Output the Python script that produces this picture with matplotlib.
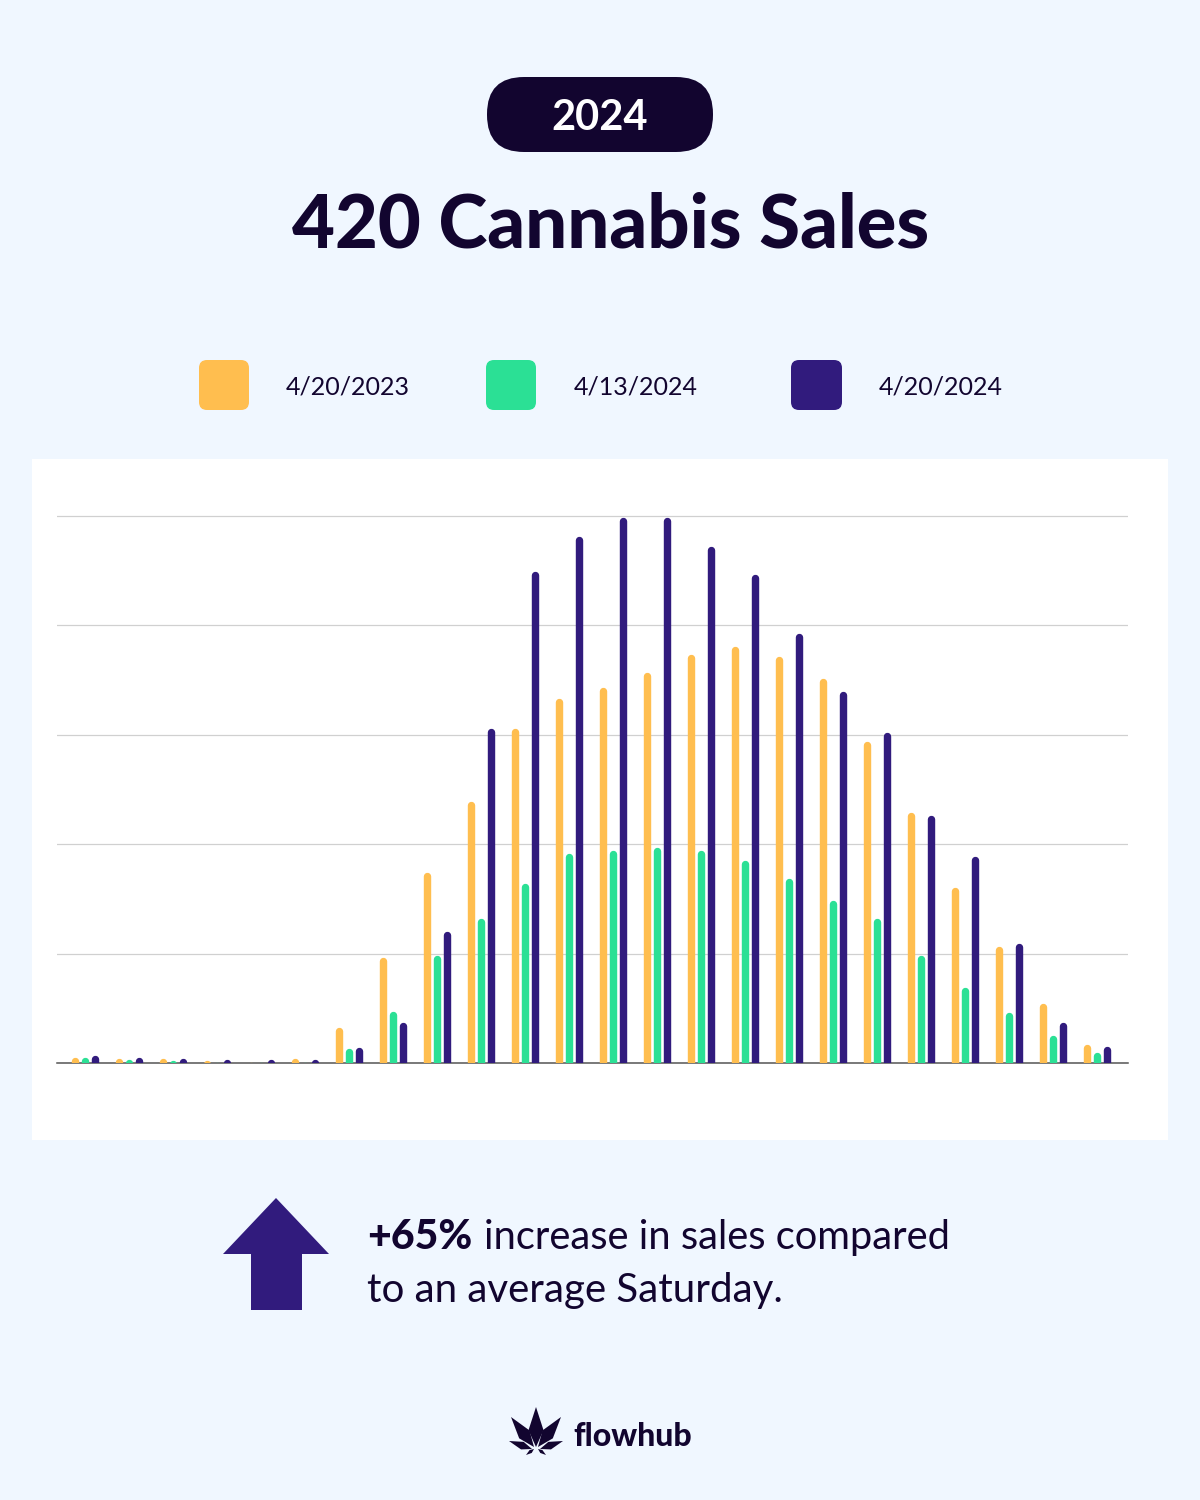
import numpy as np
import matplotlib
matplotlib.use("Agg")
import matplotlib.pyplot as plt
from matplotlib.patches import Rectangle, FancyBboxPatch, Polygon

# sales per hour, as % of the top gridline
sales_2023 = [1.1, 0.9, 0.9, 0.5, 0.2, 0.9, 6.5, 19.4, 34.8, 47.9, 61.1, 66.6,
              68.6, 71.5, 74.8, 76.1, 74.4, 70.4, 58.9, 45.9, 32.2, 21.4, 11.0, 3.5]
sales_apr13 = [1.1, 0.7, 0.5, 0.2, 0.1, 0.1, 2.6, 9.5, 19.6, 26.5, 32.9, 38.4,
               38.8, 39.5, 38.8, 37.1, 33.7, 29.8, 26.5, 19.6, 13.9, 9.2, 5.0, 2.0]
sales_apr20 = [1.4, 1.1, 0.9, 0.7, 0.7, 0.7, 2.8, 7.5, 24.0, 61.1, 89.8, 96.2,
               99.7, 99.7, 94.4, 89.3, 78.5, 67.9, 60.4, 45.2, 37.7, 21.8, 7.5, 3.1]
legend_labels = ["4/20/2023", "4/13/2024", "4/20/2024"]
gridlines = [0, 20, 40, 60, 80, 100]

BG = "#f0f7ff"
DARK = "#12052f"
YELLOW = "#ffbe4f"
GREEN = "#2be095"
PURPLE = "#311b7d"

plt.rcParams["font.family"] = ["Lato", "DejaVu Sans"]

fig = plt.figure(figsize=(12, 15), dpi=100, facecolor=BG)

# page layer in pixel coordinates
page = fig.add_axes([0, 0, 1, 1], zorder=0)
page.set_xlim(0, 1200)
page.set_ylim(1500, 0)
page.axis("off")

page.add_patch(Rectangle((32, 459), 1136, 681, fc="white", ec="none"))

page.add_patch(FancyBboxPatch((487, 77), 226, 75, boxstyle="round,pad=0,rounding_size=37",
                              fc=DARK, ec="none"))
page.text(600, 118, "2024", color="white", fontsize=30, fontweight="bold", ha="center", va="center")
page.text(611, 226, "420 Cannabis Sales", color=DARK, fontsize=53.4, fontweight="black", ha="center", va="center")

# legend
for x0, w, c, lx, label in zip([199, 486, 791], [50, 50, 51], [YELLOW, GREEN, PURPLE],
                               [286, 574, 879], legend_labels):
    page.add_patch(FancyBboxPatch((x0, 360), w, 50, boxstyle="round,pad=0,rounding_size=8", fc=c, ec="none"))
    page.text(lx, 387, label, color=DARK, fontsize=18, ha="left", va="center")

# arrow + caption
page.add_patch(Polygon([(276, 1198), (329, 1254), (302, 1254), (302, 1310), (251, 1310), (251, 1254), (223, 1254)],
                       closed=True, fc=PURPLE, ec="none"))
page.text(367, 1249, "+65%", color=DARK, fontsize=29.5, fontweight="black", ha="left", va="baseline")
page.text(484, 1249, "increase in sales compared", color=DARK, fontsize=28.7, ha="left", va="baseline")
page.text(367, 1302, "to an average Saturday.", color=DARK, fontsize=29, ha="left", va="baseline")


# logo
def leaf(tip, base, half_width):
    tip = np.array(tip, float)
    base = np.array(base, float)
    d = tip - base
    n = np.array([-d[1], d[0]]) / np.hypot(*d)
    mid = base + 0.42 * d
    page.add_patch(Polygon([base, mid + n * half_width, tip, mid - n * half_width],
                           closed=True, fc=DARK, ec="none"))


cx = 536
leaf((cx, 1407), (cx, 1447), 7.5)
for sign in (-1, 1):
    leaf((cx + sign * 25, 1417), (cx + sign * 2, 1447), 6.5)
    leaf((cx + sign * 27, 1441), (cx + sign * 4, 1449), 4)
    leaf((cx + sign * 10, 1455), (cx + sign * 2, 1449), 1.8)
page.text(573, 1446, "flowhub", color=DARK, fontsize=23, fontweight="black", ha="left", va="baseline")

# chart, positioned on the 1200x1500 page
px_left, px_right, px_base, px_per_unit = 57, 1128, 1063, 5.47
ymax = 105
px_top = px_base - ymax * px_per_unit
ax = fig.add_axes([px_left / 1200, 1 - px_base / 1500, (px_right - px_left) / 1200, (px_base - px_top) / 1500],
                  zorder=1)
ax.patch.set_alpha(0)
step = 44
ax.set_xlim((px_left - 85) / step, (px_right - 85) / step)
ax.set_ylim(0, ymax)
for s in ("top", "left", "right"):
    ax.spines[s].set_visible(False)
ax.spines["bottom"].set_color("#555555")
ax.spines["bottom"].set_linewidth(1.1)
ax.spines["bottom"].set_zorder(2.5)
ax.set_xticks([])
ax.set_yticks(gridlines)
ax.tick_params(left=False, labelleft=False)
ax.grid(axis="y", color="#d0d0d0", lw=0.9)
ax.set_axisbelow(True)

hours = np.arange(len(sales_2023))
bar_px = 7.4
cap = bar_px / 2 / px_per_unit  # round cap sticks out past the line end
for values, colour, offset in [(sales_2023, YELLOW, -10), (sales_apr13, GREEN, 0), (sales_apr20, PURPLE, 9.5)]:
    ax.vlines(hours + offset / step, -3, np.array(values) - cap, colors=colour,
              linewidth=bar_px * 72 / 100, capstyle="round", zorder=3)

fig.savefig("out.png", dpi=100, facecolor=BG)
